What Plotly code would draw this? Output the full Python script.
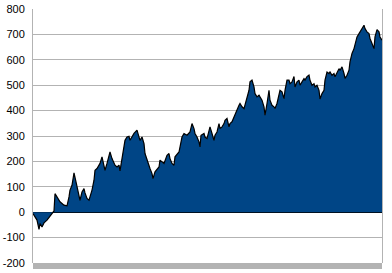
import plotly.graph_objects as go

days = [0, 2, 4, 6, 7, 9, 11, 14, 17, 19, 21, 22, 24, 27, 31, 34, 36, 37, 39, 41,
        43, 46, 47, 49, 51, 52, 54, 56, 57, 59, 61, 62, 64, 66, 67, 69, 71, 72, 74, 76,
        77, 79, 81, 82, 84, 86, 87, 89, 91, 92, 94, 96, 97,
        101, 104, 106, 107, 109, 111, 112, 114, 116, 117, 119, 120, 122, 126, 127, 131, 134,
        136, 137, 139, 141, 142, 146, 147, 149, 151, 154, 157, 159, 161, 162, 164, 166, 167,
        168, 171, 172, 174, 176, 177, 179, 181, 182, 184, 186, 187, 189, 191, 192, 194, 196,
        197, 199, 201, 202, 204, 206, 207, 209, 211, 212, 214, 216, 217, 219, 221, 222, 224,
        226, 227,
        229, 231, 232, 234, 236, 237, 239, 241, 242, 244, 246, 247, 249, 251, 252, 254, 256,
        257, 259, 261, 262, 264, 266, 267, 269, 271, 272, 274, 276, 277, 279, 281, 282, 284,
        286, 287, 289, 291, 292, 294, 296, 297, 299, 301, 302, 304, 306, 307, 309, 311, 312,
        314, 316, 317, 319, 321, 322, 324, 326, 327, 329, 331, 332, 334, 336, 337, 339, 341,
        342, 344, 346, 347, 349]

values = [-5, -16, -31, -68, -45, -58, -42, -31, -16, -5, 5, 73, 58, 41, 28, 25, 60, 87, 106, 155,
          119, 73, 47, 80, 93, 76, 54, 47, 60, 87, 126, 165, 172, 185, 192, 218, 178, 165, 192, 218,
          237, 211, 192, 185, 178, 185, 163, 211, 257, 283, 296, 299, 283,
          310, 323, 296, 283, 296, 270, 231, 205, 185, 172, 152, 132, 159, 178, 205, 192, 224,
          231, 211, 192, 185, 218, 237, 257, 296, 310, 303, 316, 349, 329, 310, 296, 277, 257,
          303, 310, 296, 290, 323, 336, 310, 283, 303, 316, 349, 329, 336, 349, 362, 369, 336,
          349, 356, 375, 388, 408, 421, 428, 415, 408, 421, 447, 480, 513, 520, 493, 467, 454,
          461, 454,
          441, 415, 382, 428, 480, 441, 421, 415, 408, 428, 467, 480, 474, 447, 480, 520, 520,
          506, 513, 534, 493, 513, 520, 500, 513, 526, 520, 534, 540, 520, 500, 506, 493, 500,
          480, 446, 467, 480, 520, 552, 546, 552, 539, 546, 533, 552, 565, 559, 572, 546, 527,
          539, 559, 592, 625, 644, 664, 690, 703, 709, 723, 736, 723, 710, 703, 684, 664, 644,
          690, 719, 710, 690, 677]

y_ticks = [-200, -100, 0, 100, 200, 300, 400, 500, 600, 700, 800]

fig = go.Figure()
fig.add_trace(go.Scatter(
    x=days, y=values, mode="lines", fill="tozeroy",
    fillcolor="#004586", line=dict(color="#000000", width=1.2),
    hoverinfo="skip", showlegend=False,
))

fig.add_shape(type="rect", xref="paper", yref="paper", x0=0, x1=1, y0=-0.024, y1=0,
              fillcolor="#b3b3b3", line=dict(width=0), layer="below")

fig.update_layout(
    width=392, height=273,
    margin=dict(l=33, r=10, t=9, b=10, autoexpand=False),
    paper_bgcolor="white", plot_bgcolor="white",
    font=dict(family="Liberation Sans, Arial, sans-serif", size=11, color="#000000"),
    xaxis=dict(range=[0, 349], showgrid=False, showticklabels=False, zeroline=False,
               showline=False, ticks="", automargin=False),
    yaxis=dict(range=[-200, 800], tickvals=y_ticks, ticktext=[str(v) for v in y_ticks],
               showgrid=True, gridcolor="#b3b3b3", gridwidth=1,
               zeroline=True, zerolinecolor="#000000", zerolinewidth=1,
               showline=True, linecolor="#b3b3b3", linewidth=1, mirror=True,
               ticks="", ticklabelstandoff=5, automargin=False),
)

fig.write_html("out.html")
